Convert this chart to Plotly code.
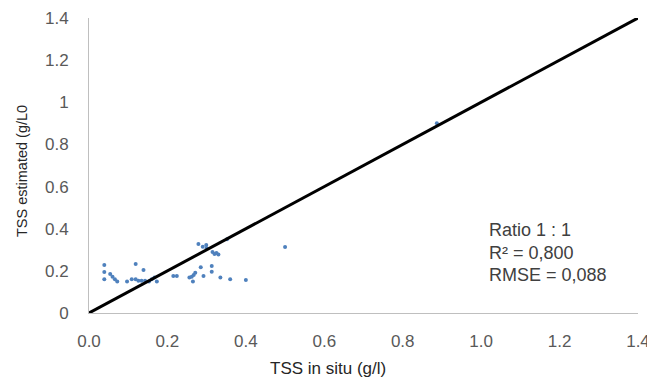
import plotly.graph_objects as go

tss_in_situ = [0.039, 0.039, 0.039, 0.054, 0.060, 0.066, 0.072, 0.097, 0.109, 0.119,
               0.119, 0.126, 0.139, 0.134, 0.143, 0.153, 0.160, 0.167, 0.173, 0.215,
               0.224, 0.256, 0.262, 0.265, 0.267, 0.271, 0.279, 0.285, 0.290, 0.292,
               0.299, 0.300, 0.313, 0.313, 0.315, 0.320, 0.325, 0.330, 0.335, 0.352,
               0.360, 0.400, 0.500, 0.887]
tss_estimated = [0.228, 0.195, 0.160, 0.185, 0.172, 0.160, 0.150, 0.150, 0.160, 0.232,
                 0.160, 0.153, 0.204, 0.153, 0.153, 0.149, 0.160, 0.169, 0.149, 0.176,
                 0.176, 0.169, 0.172, 0.149, 0.180, 0.191, 0.327, 0.217, 0.315, 0.176,
                 0.323, 0.307, 0.223, 0.196, 0.290, 0.280, 0.285, 0.278, 0.169, 0.350,
                 0.160, 0.157, 0.313, 0.900]
ref_line = [0.0, 1.4]
x_ticks = [0.0, 0.2, 0.4, 0.6, 0.8, 1.0, 1.2, 1.4]
x_tick_labels = ["0.0", "0.2", "0.4", "0.6", "0.8", "1.0", "1.2", "1.4"]
y_ticks = [0, 0.2, 0.4, 0.6, 0.8, 1.0, 1.2, 1.4]
y_tick_labels = ["0", "0.2", "0.4", "0.6", "0.8", "1", "1.2", "1.4"]
stats_lines = ["Ratio 1 : 1", "R² = 0,800", "RMSE = 0,088"]
x_title = "TSS in situ (g/l)"
y_title = "TSS estimated (g/L0"

fig = go.Figure()
fig.add_trace(go.Scatter(x=tss_in_situ, y=tss_estimated, mode="markers",
                         marker=dict(color="#4F81BD", size=4), showlegend=False,
                         cliponaxis=False))
fig.add_trace(go.Scatter(x=ref_line, y=ref_line, mode="lines",
                         line=dict(color="black", width=3), showlegend=False,
                         cliponaxis=False))

font_family = "Liberation Sans, Arial, sans-serif"
OFF = 8  # default page body margin
W, H = 655 - OFF, 383 - OFF
L, R, T, B = 89 - OFF, 17, 18 - OFF, 70
pw, ph = W - L - R, H - T - B
PX0, PY0 = 89, 313  # page pixel of plot origin


def px(xpage):
    return (xpage - PX0) / pw


def py(ypage):
    return (PY0 - ypage) / ph


fig.update_layout(
    width=W, height=H,
    margin=dict(l=L, r=R, t=T, b=B),
    paper_bgcolor="white", plot_bgcolor="white",
    font=dict(family=font_family, color="#595959", size=17),
    xaxis=dict(range=[0, 1.4], tickvals=x_ticks, ticktext=x_tick_labels,
               showgrid=False, zeroline=False, showline=True, linecolor="#BFBFBF",
               linewidth=1, ticks="", ticklabelstandoff=13, automargin=False,
               tickfont=dict(size=17, color="#595959")),
    yaxis=dict(range=[0, 1.4], tickvals=y_ticks, ticktext=y_tick_labels,
               showgrid=False, zeroline=False, showline=True, linecolor="#BFBFBF",
               linewidth=1, ticks="", ticklabelstandoff=16, automargin=False,
               tickfont=dict(size=17, color="#595959")),
)
fig.add_annotation(xref="paper", yref="paper", x=px(328), y=py(368),
                   text=x_title, showarrow=False, xanchor="center", yanchor="middle",
                   font=dict(size=17, color="#262626"))
fig.add_annotation(xref="paper", yref="paper", x=px(22), y=py(171),
                   text=y_title, showarrow=False, xanchor="center", yanchor="middle",
                   textangle=-90, font=dict(size=14.5, color="#262626"))
for i, t in enumerate(stats_lines):
    fig.add_annotation(xref="paper", yref="paper", x=px(487),
                       y=py(230 + i * 22.5),
                       text=t, showarrow=False, xanchor="left", yanchor="middle",
                       font=dict(size=18, color="#404040"))

fig.write_html("out.html")
